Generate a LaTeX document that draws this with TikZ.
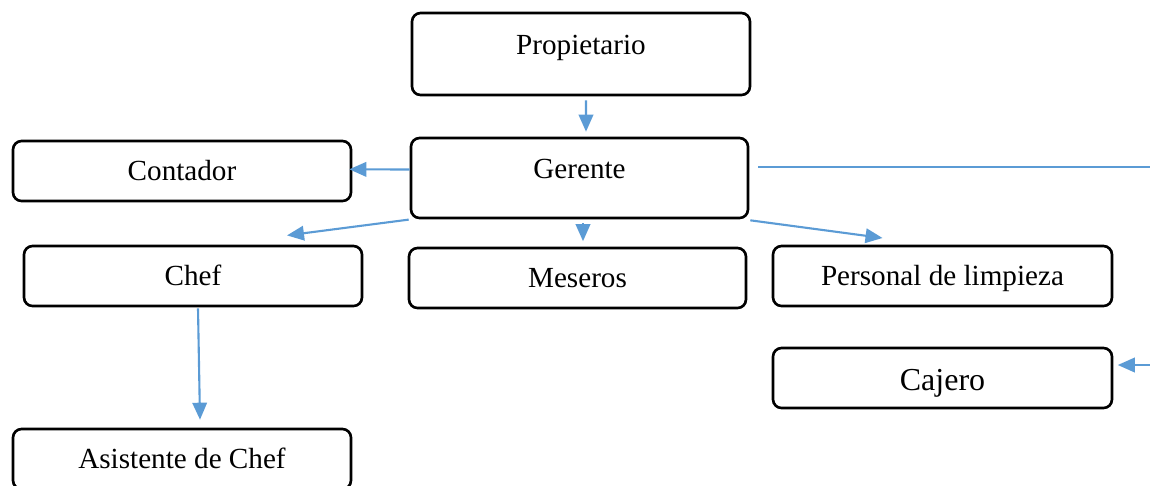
\documentclass[tikz,border=0pt]{standalone}
\usepackage{fontspec}
\setmainfont{Liberation Serif}
\usetikzlibrary{arrows.meta,calc}
\definecolor{flecha}{RGB}{91,155,213}
\tikzset{
  caja/.style={draw,line width=1.5pt,rounded corners=0.17cm,minimum width=6.76cm,minimum height=1.2cm,
    inner sep=0pt,text height=0.5cm,text depth=0.12cm,font=\fontsize{16.6}{20}\selectfont},
  cajaalta/.style={caja,text height=0.3cm,text depth=0.3cm},
  conector/.style={draw=flecha,line width=1.2pt,-{Triangle[length=0.34cm,width=0.29cm]}}
}
\begin{document}
\begin{tikzpicture}[x=0.02cm,y=-0.02cm]
\useasboundingbox (0,0) rectangle (1150,485);
\clip (0,0) rectangle (1150,485);
\node[cajaalta,minimum height=1.64cm](prop) at (581,54) {Propietario};
\node[cajaalta,minimum height=1.6cm,minimum width=6.74cm](ger) at (579.5,178) {Gerente};
\node[caja](cont) at (182,171) {Contador};
\node[caja](chef) at (193,276) {Chef};
\node[caja,minimum width=6.74cm](mes) at (577.5,278) {Meseros};
\node[caja,minimum width=6.78cm](pers) at (942.5,276) {Personal de limpieza};
\node[caja,minimum width=6.78cm,text height=0.6cm,font=\fontsize{18.2}{22}\selectfont](caj) at (942.5,378) {Cajero};
\node[caja](asis) at (182,459) {Asistente de Chef};
\draw[conector] ($(prop.south)+(5,4)$) -- ($(ger.north)+(6.5,-5)$);
\draw[conector] ($(ger.west)+(0,-8.5)$) -- ($(cont.east)+(-3,-1.7)$);
\draw[conector] ($(ger.south west)+(-1,0.3)$) -- ($(chef.north)+(94,-9.3)$);
\draw[conector] ($(ger.south)+(3.5,4)$) -- ($(mes.north)+(5.5,-5.5)$);
\draw[conector] ($(ger.south east)+(1,1)$) -- ($(pers.north)+(-60,-6.7)$);
\draw[conector] ($(chef.south)+(5,1)$) -- ($(asis.north)+(18,-8)$);
\draw[conector] ($(ger.east)+(9,-11)$) -- (1170,167) -- (1170,365) -- ($(caj.east)+(4.5,-13)$);
\end{tikzpicture}
\end{document}
